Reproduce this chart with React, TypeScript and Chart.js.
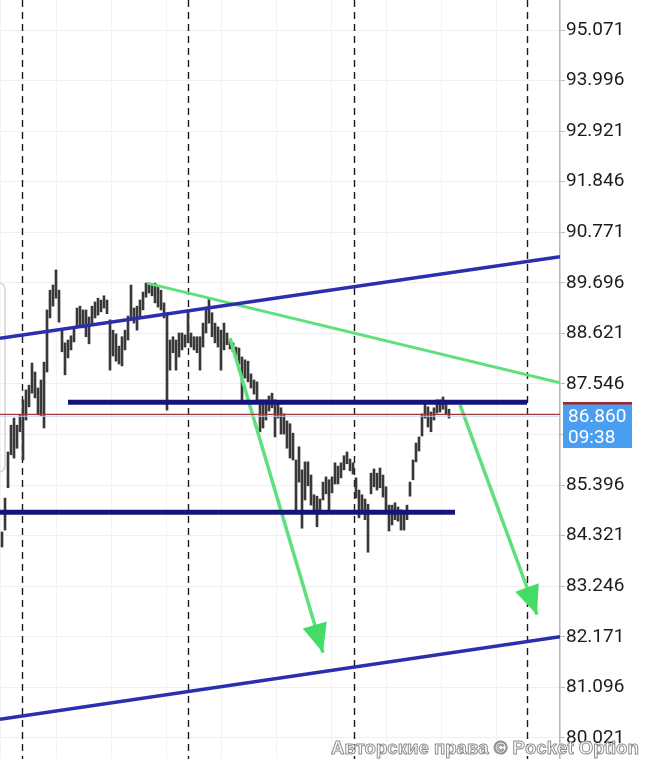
import React, { useEffect, useRef } from 'react';
import { Chart, registerables } from 'chart.js';

Chart.register(...registerables);

// ---- price bars (one per time step) ----
const barHighs = [
  84.40, 85.12, 86.10, 86.67, 86.82, 86.67, 86.89, 87.21, 87.42, 87.52,
  87.99, 87.80, 87.46, 87.63, 88.01, 89.12, 89.54, 89.65, 89.97, 89.54,
  88.69, 88.42, 88.48, 88.57, 88.74, 89.16, 89.20, 89.12, 89.12, 88.97,
  89.20, 89.29, 89.37, 89.33, 89.42, 89.33, 88.91, 88.69, 88.61, 88.35,
  88.55, 88.69, 88.99, 89.65, 89.16, 89.20, 89.33, 89.50, 89.69, 89.69,
  89.65, 89.69, 89.61, 89.54, 89.27, 89.06, 88.48, 88.55, 88.48, 88.63,
  88.63, 88.59, 89.06, 88.63, 88.55, 88.55, 88.55, 88.84, 89.18, 89.35,
  89.06, 88.84, 88.76, 88.69, 88.84, 88.63, 88.48, 88.42, 88.33, 88.31,
  88.12, 88.06, 88.03, 87.76, 87.63, 87.59, 87.21, 87.21, 87.21, 87.29,
  87.35, 87.21, 87.12, 87.04, 86.91, 86.76, 86.70, 86.50, 85.93, 86.21,
  85.72, 85.89, 85.89, 85.61, 85.19, 85.16, 85.10, 85.46, 85.57, 85.51,
  85.57, 85.87, 85.80, 85.87, 86.02, 86.10, 85.95, 85.87, 85.55, 85.29,
  85.19, 85.10, 84.99, 85.65, 85.74, 85.65, 85.76, 85.61, 85.36, 84.97,
  84.97, 85.02, 84.93, 84.87, 84.82, 84.97, 85.46, 85.93, 86.29, 86.42,
  86.91, 87.12, 87.06, 86.95, 87.04, 87.21, 87.21, 87.27, 87.16, 87.01,
];
const barLows = [
  84.08, 84.44, 85.34, 86.04, 85.97, 86.18, 86.53, 85.93, 86.78, 87.06,
  87.35, 87.25, 86.89, 86.87, 86.61, 87.80, 88.95, 89.20, 89.37, 88.86,
  88.23, 87.74, 88.10, 88.27, 88.44, 88.74, 88.78, 88.74, 88.55, 88.40,
  88.84, 88.95, 89.01, 89.08, 89.16, 89.04, 87.84, 88.14, 88.03, 87.97,
  87.93, 88.27, 88.48, 88.91, 88.84, 88.69, 88.97, 89.12, 89.39, 89.48,
  89.42, 89.27, 89.18, 89.12, 88.95, 86.99, 87.84, 88.21, 87.84, 88.12,
  88.27, 88.33, 88.42, 88.33, 88.27, 88.21, 87.84, 88.33, 88.63, 88.84,
  88.55, 88.42, 88.33, 87.84, 88.27, 88.38, 88.29, 88.23, 88.14, 87.97,
  87.16, 87.67, 87.59, 87.46, 87.33, 87.16, 86.53, 86.61, 86.78, 86.97,
  87.04, 86.42, 86.82, 86.48, 86.48, 86.18, 85.97, 85.93, 84.80, 85.46,
  84.48, 85.08, 85.38, 84.97, 84.87, 84.51, 84.78, 85.08, 85.21, 84.87,
  85.23, 85.42, 85.42, 85.55, 85.72, 85.85, 85.70, 85.63, 85.12, 84.70,
  84.87, 84.66, 83.97, 85.21, 85.36, 85.29, 85.34, 85.14, 84.80, 84.42,
  84.55, 84.66, 84.63, 84.44, 84.44, 84.66, 85.16, 85.51, 85.89, 86.12,
  86.44, 86.82, 86.63, 86.53, 86.78, 86.93, 86.95, 87.01, 86.89, 86.82,
];

// ---- axis ----
const priceTicks = [
  95.071, 93.996, 92.921, 91.846, 90.771, 89.696, 88.621, 87.546,
  86.471, 85.396, 84.321, 83.246, 82.171, 81.096, 80.021,
];
const yMin = 79.573;
const yMax = 95.709;
const xMin = -0.667;
const xMax = 186;
const timeMarks = [6.67, 62, 117.33, 175];

// ---- current price ----
const priceLineValue = 86.9;
const currentPrice = 86.86;
const currentPriceLabel = '86.860';
const timerLabel = '09:38';

// ---- drawn analysis lines: [time index, price] ----
const upperChannel = [[-0.667, 88.52], [186, 90.25]];
const lowerChannel = [[-0.667, 80.42], [186, 82.17]];
const greenResistance = [[48.33, 89.69], [186, 87.57]];
const levelHigh = [[22, 87.16], [175, 87.16]];
const levelLow = [[-0.667, 84.82], [151, 84.82]];
const arrowOne = [[76, 88.52], [107, 81.83]];
const arrowTwo = [[152.67, 87.1], [178.33, 82.64]];

const watermark = 'Авторские права © Pocket Option';

const GREEN = '#5fe07c';
const ARROW_GREEN = '#45dc66';

const toPts = (arr: number[][]) => arr.map(([x, y]) => ({ x, y }));

const lineDs = (data: number[][], color: string, width: number, extra: any = {}) => ({
  type: 'line' as const,
  data: toPts(data),
  borderColor: color,
  borderWidth: width,
  pointRadius: 0,
  fill: false,
  tension: 0,
  order: 1,
  ...extra,
});

const overlayPlugin = {
  id: 'overlayPlugin',
  beforeDatasetsDraw(chart: any) {
    const { ctx, chartArea, scales } = chart;
    const x = scales.x;
    ctx.save();
    // left side tab outline
    ctx.strokeStyle = '#d4d4d4';
    ctx.lineWidth = 1.5;
    ctx.beginPath();
    ctx.roundRect(-20, 283, 25, 189, 6);
    ctx.stroke();
    // dashed time separators
    ctx.setLineDash([7, 5]);
    ctx.strokeStyle = '#1a1a1a';
    ctx.lineWidth = 1.4;
    for (const t of timeMarks) {
      const px = Math.round(x.getPixelForValue(t)) + 0.5;
      ctx.beginPath();
      ctx.moveTo(px, chartArea.top);
      ctx.lineTo(px, chartArea.bottom);
      ctx.stroke();
    }
    ctx.restore();
  },
  afterDatasetsDraw(chart: any) {
    const { ctx } = chart;
    chart.data.datasets.forEach((ds: any, i: number) => {
      if (!ds.arrowHead) return;
      const pts = chart.getDatasetMeta(i).data;
      const a = pts[pts.length - 2];
      const b = pts[pts.length - 1];
      const ang = Math.atan2(b.y - a.y, b.x - a.x);
      const L = 29;
      const W = 12.5;
      const bx = b.x - L * Math.cos(ang);
      const by = b.y - L * Math.sin(ang);
      ctx.save();
      ctx.fillStyle = ds.arrowColor;
      ctx.beginPath();
      ctx.moveTo(b.x, b.y);
      ctx.lineTo(bx - W * Math.sin(ang), by + W * Math.cos(ang));
      ctx.lineTo(bx + W * Math.sin(ang), by - W * Math.cos(ang));
      ctx.closePath();
      ctx.fill();
      ctx.restore();
    });
  },
  afterDraw(chart: any) {
    const { ctx, chartArea, scales } = chart;
    const y = scales.y;
    ctx.save();
    // current price box
    const py = y.getPixelForValue(priceLineValue);
    const left = chartArea.right + 3;
    const top = Math.round(py) - 11;
    const w = 69;
    const h = 45;
    ctx.fillStyle = '#4a9ef2';
    ctx.fillRect(left, top, w, h);
    ctx.fillStyle = '#a3232f';
    ctx.fillRect(left, top - 1, w, 2.5);
    ctx.fillStyle = '#ffffff';
    ctx.font = '19px Roboto';
    ctx.textBaseline = 'middle';
    ctx.textAlign = 'left';
    ctx.fillText(currentPriceLabel, left + 5, top + 14);
    ctx.fillText(timerLabel, left + 5, top + 35);

    // watermark
    let size = 20;
    ctx.font = `bold ${size}px "Liberation Sans"`;
    const mw = ctx.measureText(watermark).width;
    size = size * (308 / mw);
    ctx.font = `bold ${size}px "Liberation Sans"`;
    ctx.textBaseline = 'alphabetic';
    ctx.lineJoin = 'round';
    ctx.fillStyle = 'rgba(255,255,255,0.85)';
    ctx.fillText(watermark, 331, 754);
    ctx.strokeStyle = '#8e8e8e';
    ctx.lineWidth = 1;
    ctx.strokeText(watermark, 331, 754);
    ctx.restore();
  },
};

export default function App() {
  const canvasRef = useRef<HTMLCanvasElement | null>(null);

  useEffect(() => {
    document.body.style.margin = '0';
    const canvas = canvasRef.current;
    if (!canvas) return;

    const bars = barHighs.map((h, i) => ({ x: i, y: [barLows[i], h] }));

    const chart = new Chart(canvas, {
      type: 'bar',
      data: {
        datasets: [
          {
            type: 'bar',
            data: bars as any,
            backgroundColor: '#383838',
            borderWidth: 0,
            barThickness: 2,
            grouped: false,
            order: 10,
          } as any,
          lineDs([[xMin, priceLineValue], [xMax, priceLineValue]], '#9e3a3a', 1.2),
          lineDs([[xMin, currentPrice], [xMax, currentPrice]], '#c4d3ee', 1),
          lineDs(upperChannel, '#2a2fae', 3.5),
          lineDs(lowerChannel, '#2a2fae', 3.5),
          lineDs(greenResistance, GREEN, 3),
          lineDs(levelHigh, '#14147a', 5),
          lineDs(levelLow, '#14147a', 5),
          lineDs(arrowOne, GREEN, 3.5, { arrowHead: true, arrowColor: ARROW_GREEN }),
          lineDs(arrowTwo, GREEN, 3.5, { arrowHead: true, arrowColor: ARROW_GREEN }),
        ] as any,
      },
      options: {
        animation: false,
        responsive: false,
        maintainAspectRatio: false,
        layout: { padding: 0 },
        plugins: {
          legend: { display: false },
          tooltip: { enabled: false },
        },
        events: [],
        scales: {
          x: {
            type: 'linear',
            offset: false,
            min: xMin,
            max: xMax,
            ticks: { display: false, stepSize: 18.3 },
            grid: { color: '#f3f3f3', drawTicks: false, offset: false },
            border: { display: false },
            afterFit: (s: any) => {
              s.height = 0;
              s.paddingLeft = 0;
              s.paddingRight = 0;
              s.paddingTop = 0;
              s.paddingBottom = 0;
            },
          },
          y: {
            type: 'linear',
            position: 'right',
            min: yMin,
            max: yMax,
            afterBuildTicks: (s: any) => {
              s.ticks = priceTicks.map((v) => ({ value: v }));
            },
            afterFit: (s: any) => {
              s.width = 85;
              s.paddingTop = 0;
              s.paddingBottom = 0;
              s.paddingLeft = 0;
              s.paddingRight = 0;
            },
            ticks: {
              autoSkip: false,
              font: { family: 'Roboto', size: 19 },
              color: '#1c1c1c',
              padding: 1,
              callback: (v: any) => Number(v).toFixed(3),
            },
            grid: { color: '#efefef', tickLength: 5, tickColor: '#bdbdbd' },
            border: { color: '#b8b8b8', width: 1.5 },
          },
        },
      } as any,
      plugins: [overlayPlugin],
    });

    return () => {
      chart.destroy();
    };
  }, []);

  return (
    <div style={{ width: 645, height: 759, background: '#ffffff' }}>
      <canvas ref={canvasRef} width={645} height={759} style={{ display: 'block' }} />
    </div>
  );
}
